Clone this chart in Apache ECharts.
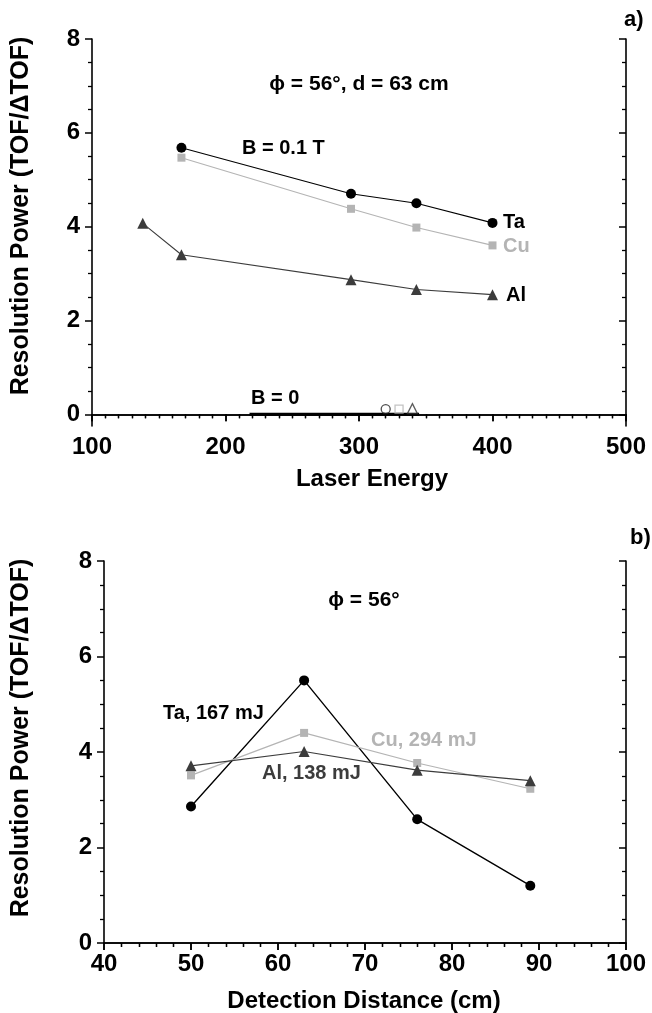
<!DOCTYPE html>
<html><head><meta charset="utf-8">
<script src="https://cdn.jsdelivr.net/npm/echarts@6/dist/echarts.min.js"></script>
<style>html,body{margin:0;padding:0;background:#fff}#c{width:652px;height:1013px}</style>
</head><body><div id="c"></div>
<script>
// ---- Panel a: Laser Energy ----
const energyTa = [167, 294, 343, 400];
const resTa_a = [5.68, 4.70, 4.50, 4.08];
const energyCu = [167, 294, 343, 400];
const resCu_a = [5.47, 4.38, 3.98, 3.60];
const energyAl = [138, 167, 294, 343, 400];
const resAl_a = [4.07, 3.40, 2.87, 2.66, 2.55];
const energyB0Line = [218, 345];
const resB0Line = [0, 0];
const energyB0Ta = [320], resB0Ta = [0.11];
const energyB0Cu = [330], resB0Cu = [0.11];
const energyB0Al = [340], resB0Al = [0.12];
const xTicksA = [100, 200, 300, 400, 500];
const yMajorA = [0, 2, 4, 6, 8];
const yMinorA = [0.5, 1, 1.5, 2.5, 3, 3.5, 4.5, 5, 5.5, 6.5, 7, 7.5];

// ---- Panel b: Detection Distance ----
const distance = [50, 63, 76, 89];
const resTa_b = [2.86, 5.50, 2.59, 1.20];
const resCu_b = [3.51, 4.40, 3.77, 3.23];
const resAl_b = [3.71, 4.01, 3.62, 3.40];
const xTicksB = [40, 50, 60, 70, 80, 90, 100];
const yTicksB = [0, 2, 4, 6, 8];
const yMinorB = [0.5, 1, 1.5, 2.5, 3, 3.5, 4.5, 5, 5.5, 6.5, 7, 7.5];

const FONT = '"Liberation Sans", Arial, sans-serif';
const cTa = '#000000', cCu = '#b4b4b4', cAl = '#3c3c3c';
const pairs = (xs, ys) => xs.map((x, i) => [x, ys[i]]);

const tickLabel = {fontFamily: FONT, fontWeight: 'bold', fontSize: 24, color: '#000'};
const line = {show: true, lineStyle: {color: '#000', width: 1.6}};

function xAxes(gridIndex, min, max, interval, minorSplit) {
  return [
    {gridIndex, type: 'value', position: 'bottom', min, max, interval,
     axisLine: line, axisTick: {show: true, inside: false, length: 7, lineStyle: {color: '#000', width: 1.5}},
     minorTick: {show: true, splitNumber: minorSplit, length: 4, lineStyle: {color: '#000', width: 1.3}},
     axisLabel: Object.assign({margin: 9}, tickLabel), splitLine: {show: false}, minorSplitLine: {show: false}},
    {gridIndex, type: 'value', position: 'top', min, max, interval,
     axisLine: line, axisTick: {show: true, inside: true, length: 7, lineStyle: {color: '#000', width: 1.5}},
     minorTick: {show: true, splitNumber: minorSplit, length: 4, lineStyle: {color: '#000', width: 1.3}},
     axisLabel: {show: false}, splitLine: {show: false}}
  ];
}
function yAxes(gridIndex, min, max, major, minor) {
  const base = {gridIndex, type: 'value', min, max, splitLine: {show: false}};
  return [
    Object.assign({}, base, {position: 'left', axisLine: line,
      axisTick: {show: true, inside: false, length: 7, customValues: major, lineStyle: {color: '#000', width: 1.5}},
      axisLabel: Object.assign({margin: 12, customValues: major}, tickLabel)}),
    Object.assign({}, base, {position: 'left', axisLine: {show: false},
      axisTick: {show: true, inside: false, length: 4, customValues: minor, lineStyle: {color: '#000', width: 1.3}},
      axisLabel: {show: false, customValues: minor}}),
    Object.assign({}, base, {position: 'right', axisLine: line,
      axisTick: {show: true, inside: true, length: 7, customValues: major, lineStyle: {color: '#000', width: 1.5}},
      axisLabel: {show: false, customValues: major}}),
    Object.assign({}, base, {position: 'right', axisLine: {show: false},
      axisTick: {show: true, inside: true, length: 4, customValues: minor, lineStyle: {color: '#000', width: 1.3}},
      axisLabel: {show: false, customValues: minor}})
  ];
}

function ser(name, data, xi, yi, color, symbol, size, width) {
  return {name, type: 'line', xAxisIndex: xi, yAxisIndex: yi, data, symbol, symbolSize: size,
    showSymbol: true, lineStyle: {color, width}, itemStyle: {color}, z: 3, animation: false};
}
function hollow(name, data, symbol, size, color) {
  return {name, type: 'scatter', xAxisIndex: 0, yAxisIndex: 0, data, symbol, symbolSize: size,
    itemStyle: {color: 'transparent', borderColor: color, borderWidth: 1.3}, z: 4, animation: false};
}
function txt(x, y, text, opts) {
  return {type: 'text', x, y, style: Object.assign({text, fontFamily: FONT, fontWeight: 'bold', fontSize: 20, fill: '#000', textVerticalAlign: 'middle'}, opts || {})};
}
function ytitle(y) {
  return {type: 'text', x: 21, y, rotation: Math.PI / 2,
    style: {text: 'Resolution Power (TOF/ΔTOF)', fontFamily: FONT, fontWeight: 'bold', fontSize: 25, fill: '#000', textAlign: 'center', textVerticalAlign: 'middle'}};
}

const option = {
  backgroundColor: '#fff',
  animation: false,
  grid: [
    {left: 92, top: 39, width: 534, height: 387},
    {left: 104, top: 561, width: 522, height: 382}
  ],
  xAxis: [].concat(xAxes(0, xTicksA[0], xTicksA[xTicksA.length - 1], 100, 10),
                   xAxes(1, xTicksB[0], xTicksB[xTicksB.length - 1], 10, 5)),
  yAxis: [].concat(yAxes(0, -0.25, 8, yMajorA, yMinorA),
                   yAxes(1, yTicksB[0], yTicksB[yTicksB.length - 1], yTicksB, yMinorB)),
  series: [
    ser('Ta', pairs(energyTa, resTa_a), 0, 0, cTa, 'circle', 10, 1.1),
    ser('Cu', pairs(energyCu, resCu_a), 0, 0, cCu, 'rect', 8, 1.1),
    ser('Al', pairs(energyAl, resAl_a), 0, 0, cAl, 'triangle', 11, 1.1),
    {name: 'B=0', type: 'line', xAxisIndex: 0, yAxisIndex: 0, data: pairs(energyB0Line, resB0Line),
     showSymbol: false, symbol: 'none', lineStyle: {color: '#000', width: 3}, z: 2, animation: false},
    hollow('Ta B=0', pairs(energyB0Ta, resB0Ta), 'circle', 9, '#222'),
    hollow('Cu B=0', pairs(energyB0Cu, resB0Cu), 'rect', 8, '#b4b4b4'),
    hollow('Al B=0', pairs(energyB0Al, resB0Al), 'triangle', 10, '#333'),
    ser('Ta b', pairs(distance, resTa_b), 2, 4, cTa, 'circle', 10, 1.4),
    ser('Cu b', pairs(distance, resCu_b), 2, 4, cCu, 'rect', 8, 1.2),
    ser('Al b', pairs(distance, resAl_b), 2, 4, cAl, 'triangle', 11, 1.2)
  ],
  graphic: [
    txt(624, 20, 'a)', {fontSize: 22}),
    txt(359, 84, 'ϕ = 56°, d = 63 cm', {textAlign: 'center', fontSize: 21}),
    txt(242, 148, 'B = 0.1 T'),
    txt(503, 222, 'Ta'),
    txt(503, 246, 'Cu', {fill: cCu}),
    txt(506, 295, 'Al'),
    txt(251, 398, 'B = 0'),
    txt(372, 479, 'Laser Energy', {textAlign: 'center', fontSize: 24}),
    ytitle(216),
    txt(630, 538, 'b)', {fontSize: 22}),
    txt(364, 600, 'ϕ = 56°', {textAlign: 'center', fontSize: 21}),
    txt(163, 713, 'Ta, 167 mJ'),
    txt(371, 740, 'Cu, 294 mJ', {fill: cCu}),
    txt(262, 773, 'Al, 138 mJ', {fill: cAl}),
    txt(364, 1001, 'Detection Distance (cm)', {textAlign: 'center', fontSize: 24}),
    ytitle(738)
  ]
};
const chart = echarts.init(document.getElementById('c'), null, {renderer: 'canvas'});
chart.setOption(option);
</script></body></html>
